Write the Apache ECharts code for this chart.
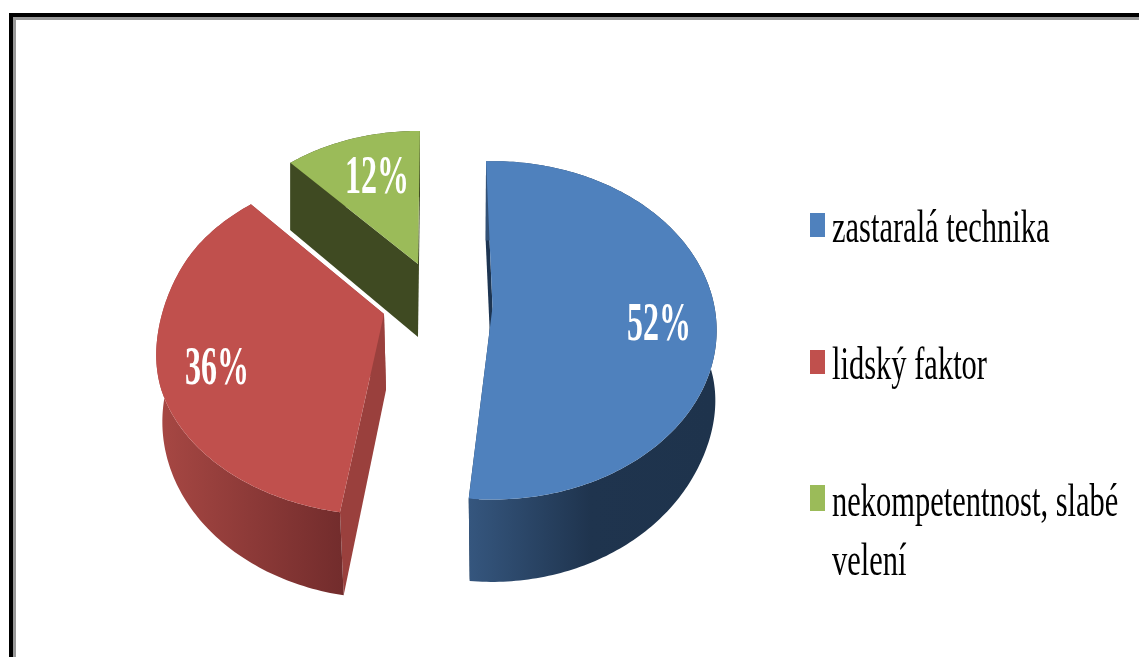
<!DOCTYPE html>
<html>
<head>
<meta charset="utf-8">
<style>html,body{margin:0;padding:0;background:#fff}#c{width:1139px;height:657px;filter:blur(0.45px)}</style>
<script src="https://cdn.jsdelivr.net/npm/echarts@6/dist/echarts.min.js"></script>
</head>
<body>
<div id="c"></div>
<script>
// ---- data ----
const categories = ['zastaralá technika', 'lidský faktor', 'nekompetentnost, slabé\nvelení'];
const shares = [52, 36, 12];
const labels = ['52%', '36%', '12%'];

// ---- styles and layout (perspective projection of each exploded slice) ----
const topColors = ['#4f81bd', '#c0504d', '#9bbb59'];
const cutColors = ['#1d3552', '#9a403d', '#3f4a22'];
const wallStops = [
  [[0, '#35567e'], [0.5, '#1f344e'], [1, '#1e334c']],
  [[0, '#a64743'], [1, '#722c2c']],
  [[0, '#3f4a22'], [1, '#3f4a22']]
];
const wallSpan = [[469, 712], [162, 344], [288, 420]];
const topGeom = [
  {cx: 492.5, cy: 307, r: 222, ry: 166, k: 0.138, ryf: 166, kf: 0.138, rot: -1.9},
  {cx: 384, cy: 314, r: 222, ry: 163, k: 0.147, ryf: 153, kf: 0.24, rot: 1.5},
  {cx: 418, cy: 264, r: 208, ry: 151.6, k: 0.14, ryf: 151.6, kf: 0.14, rot: 0.6}
];
const bottomGeom = [
  {cx: 492, cy: 383, r: 222, ry: 166, k: 0.164, ryf: 183, kf: 0.08, rot: -1.9},
  {cx: 386, cy: 390, r: 220, ry: 171, k: 0.18, ryf: 171, kf: 0.18, rot: 1.9},
  {cx: 418, cy: 337, r: 208, ry: 160, k: 0.14, ryf: 160, kf: 0.14, rot: 0.6}
];
const labelPos = [[659, 326], [217, 370], [377, 179]];
const legendX = 832;
const legendSwatch = [[810, 213, 15, 24], [810, 350, 15, 24], [810, 485, 15, 26]];
const legendTextY = [200, 337, 474];
const serif = '"Liberation Serif","Times New Roman",serif';

function project(g, deg) {
  const t = (deg + g.rot) * Math.PI / 180;
  const c = Math.cos(t);
  // blend the back and front perspective smoothly across the sides of the disc
  const u = Math.min(1, Math.max(0, c + 0.5));
  const s = u * u * (3 - 2 * u);
  const k = g.kf + (g.k - g.kf) * s;
  const ry = g.ryf + (g.ry - g.ryf) * s;
  const w = 1 + k * c;
  return [g.cx + g.r * Math.sin(t) / w, g.cy - ry * c / w];
}
function rim(g, a, b) {
  const n = Math.max(8, Math.ceil(Math.abs(b - a)));
  const pts = [];
  for (let i = 0; i <= n; i++) pts.push(project(g, a + (b - a) * i / n));
  return pts;
}
const total = shares.reduce((s, v) => s + v, 0);

function renderItem(params, api) {
  const i = params.dataIndex;
  let before = 0;
  for (let j = 0; j < i; j++) before += shares[j];
  const a = before / total * 360;
  const b = a + api.value(0) / total * 360;
  const T = topGeom[i], B = bottomGeom[i];
  const topRim = rim(T, a, b), botRim = rim(B, a, b);
  const apexT = [T.cx, T.cy], apexB = [B.cx, B.cy];
  const poly = (points, fill, z2) => ({type: 'polygon', shape: {points}, style: {fill}, z2});
  const children = [];
  // cut faces
  children.push(poly([topRim[0], apexT, apexB, botRim[0]], cutColors[i], 1));
  children.push(poly([topRim[topRim.length - 1], apexT, apexB, botRim[botRim.length - 1]], cutColors[i], 1));
  // outer wall
  const grad = new echarts.graphic.LinearGradient(wallSpan[i][0], 0, wallSpan[i][1], 0,
    wallStops[i].map(s => ({offset: s[0], color: s[1]})), true);
  children.push(poly(topRim.concat(botRim.slice().reverse()), grad, 2));
  // top face
  children.push(poly([apexT].concat(topRim), topColors[i], 3));
  // value label
  children.push({
    type: 'text', x: labelPos[i][0], y: labelPos[i][1], scaleY: 1.7, z2: 4,
    style: {text: labels[i], x: 0, y: 0, fill: '#fff', font: 'bold 32px ' + serif, align: 'center', verticalAlign: 'middle'}
  });
  // legend entry
  const sw = legendSwatch[i];
  children.push({type: 'rect', shape: {x: sw[0], y: sw[1], width: sw[2], height: sw[3]}, style: {fill: topColors[i]}, z2: 4});
  children.push({
    type: 'text', x: legendX, y: legendTextY[i], scaleY: 1.55, z2: 4,
    style: {text: categories[i], x: 0, y: 0, fill: '#000', font: '30.5px ' + serif, align: 'left', verticalAlign: 'top', lineHeight: 38}
  });
  return {type: 'group', children};
}

const chart = echarts.init(document.getElementById('c'), null, {renderer: 'canvas'});
chart.setOption({
  animation: false,
  backgroundColor: '#fff',
  graphic: [
    {type: 'rect', shape: {x: 9, y: 13, width: 1130, height: 4}, style: {fill: '#000'}},
    {type: 'rect', shape: {x: 9, y: 13, width: 4, height: 644}, style: {fill: '#000'}},
    {type: 'rect', shape: {x: 13, y: 17, width: 1126, height: 3}, style: {fill: '#999'}},
    {type: 'rect', shape: {x: 13, y: 17, width: 3, height: 640}, style: {fill: '#999'}}
  ],
  series: [{
    type: 'custom',
    coordinateSystem: 'none',
    clip: false,
    renderItem,
    data: shares.map((v, i) => ({value: [v], name: categories[i]}))
  }]
});
</script>
</body>
</html>
